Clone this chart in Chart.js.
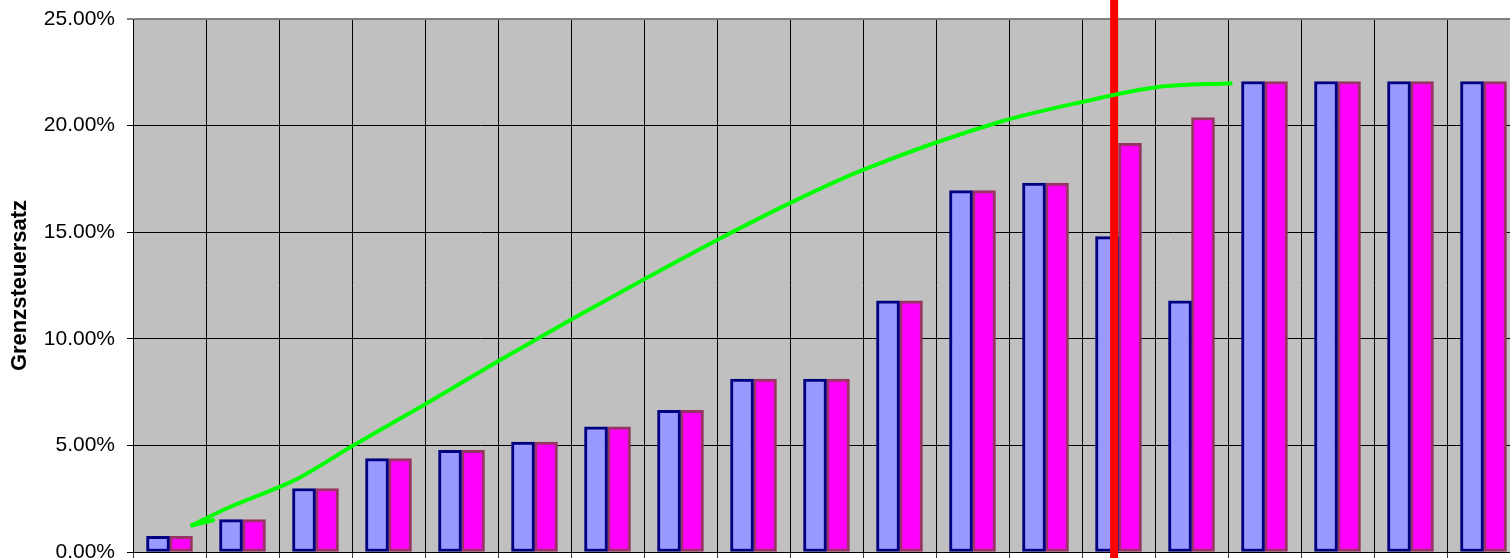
<!DOCTYPE html>
<html>
<head>
<meta charset="utf-8">
<script src="https://cdn.jsdelivr.net/npm/chart.js@4"></script>
<style>
  html, body { margin: 0; padding: 0; background: #fff; overflow: hidden; }
  #wrap { width: 1530px; height: 580px; }
</style>
</head>
<body>
<div id="wrap"><canvas id="grenzChart" width="1530" height="580"></canvas></div>
<script>
// Einkommensstufen (x labels are not shown)
const categories = ['1', '2', '3', '4', '5', '6', '7', '8', '9', '10',
  '11', '12', '13', '14', '15', '16', '17', '18', '19'];

// Grenzsteuersatz in %
const rateA = [0.73, 1.52, 2.98, 4.38, 4.77, 5.16, 5.87, 6.65, 8.11, 8.11,
  11.78, 16.95, 17.30, 14.79, 11.78, 22.07, 22.07, 22.07, 22.07];
const rateB = [0.73, 1.52, 2.98, 4.38, 4.77, 5.16, 5.87, 6.65, 8.11, 8.11,
  11.78, 16.95, 17.30, 19.17, 20.38, 22.07, 22.07, 22.07, 22.07];

// y ticks
const yTicks = [0, 5, 10, 15, 20, 25];

// smooth trend curve (x in category index units)
const trendX = [0.29, 0.82, 1.50, 1.74, 2.51, 3.52, 4.50, 5.51, 6.44, 7.51,
  8.52, 9.50, 11.37, 12.50, 13.52, 14.56];
const trendY = [1.23, 2.10, 3.04, 3.41, 4.98, 6.97, 8.95, 10.92, 12.68, 14.65,
  16.40, 17.92, 20.17, 21.11, 21.80, 21.99];
// little hook at the start of the curve
const hookX = [0.29, 0.62];
const hookY = [1.23, 1.51];

// vertical marker
const markerX = 12.94;
const markerY = [-1, 27];

const toPoints = (xs, ys) => xs.map((x, i) => ({ x, y: ys[i] }));

const plotBackground = {
  id: 'plotBackground',
  beforeDraw(chart) {
    const { ctx, chartArea: a } = chart;
    ctx.save();
    ctx.fillStyle = '#C0C0C0';
    ctx.fillRect(a.left, a.top, a.right - a.left, a.bottom - a.top);
    ctx.restore();
  }
};

new Chart(document.getElementById('grenzChart'), {
  type: 'bar',
  data: {
    labels: categories,
    datasets: [
      {
        type: 'line',
        label: 'Verlauf',
        data: toPoints(trendX, trendY),
        xAxisID: 'xl',
        borderColor: '#00FF00',
        borderWidth: 4,
        pointRadius: 0,
        cubicInterpolationMode: 'monotone',
        fill: false,
        order: 0
      },
      {
        type: 'line',
        label: 'Verlauf Anfang',
        data: toPoints(hookX, hookY),
        xAxisID: 'xl',
        borderColor: '#00FF00',
        borderWidth: 4,
        pointRadius: 0,
        tension: 0,
        fill: false,
        order: 0
      },
      {
        type: 'line',
        label: 'Grenze',
        data: toPoints([markerX, markerX], markerY),
        xAxisID: 'xl',
        borderColor: '#FF0000',
        borderWidth: 8,
        pointRadius: 0,
        fill: false,
        clip: false,
        order: 1
      },
      {
        label: 'Tarif A',
        data: rateA,
        backgroundColor: '#9999FF',
        borderColor: '#000080',
        borderWidth: 3,
        borderSkipped: false,
        barThickness: 23,
        order: 2
      },
      {
        label: 'Tarif B',
        data: rateB,
        backgroundColor: '#FF00FF',
        borderColor: '#993366',
        borderWidth: 3,
        borderSkipped: false,
        barThickness: 23,
        order: 2
      }
    ]
  },
  options: {
    responsive: false,
    animation: false,
    events: [],
    layout: { padding: { top: 19, right: 10, bottom: 0, left: 0 } },
    plugins: {
      legend: { display: false },
      tooltip: { enabled: false }
    },
    scales: {
      x: {
        type: 'category',
        offset: true,
        grid: { offset: true, color: '#000', lineWidth: 1, tickLength: 6, tickColor: '#404040' },
        border: { color: '#000', width: 1 },
        ticks: { display: false },
        afterFit(scale) { scale.height = 28; }
      },
      xl: {
        type: 'linear',
        display: false,
        offset: false,
        bounds: 'data',
        grace: 0,
        min: -0.5,
        max: categories.length - 0.5,
        grid: { offset: false }
      },
      y: {
        min: yTicks[0],
        max: yTicks[yTicks.length - 1],
        afterBuildTicks(scale) { scale.ticks = yTicks.map(v => ({ value: v })); },
        grid: {
          color: c => (c.tick && c.tick.value === 25 ? '#808080' : '#000'),
          lineWidth: c => (c.tick && c.tick.value === 25 ? 2 : 1),
          tickLength: 6
        },
        border: { color: '#000', width: 1 },
        ticks: {
          padding: 12,
          color: '#000',
          font: { family: 'Liberation Sans, Arial, sans-serif', size: 21 },
          callback: v => v.toFixed(2) + '%'
        },
        title: {
          display: true,
          text: 'Grenzsteuersatz',
          color: '#000',
          font: { family: 'Liberation Sans, Arial, sans-serif', size: 22, weight: 'bold' },
          padding: { top: 7, bottom: 0 }
        },
        afterFit(scale) {
          scale.width = 133;
          scale.paddingTop = 0;
          scale.paddingBottom = 0;
        }
      }
    }
  },
  plugins: [plotBackground]
});
</script>
</body>
</html>
